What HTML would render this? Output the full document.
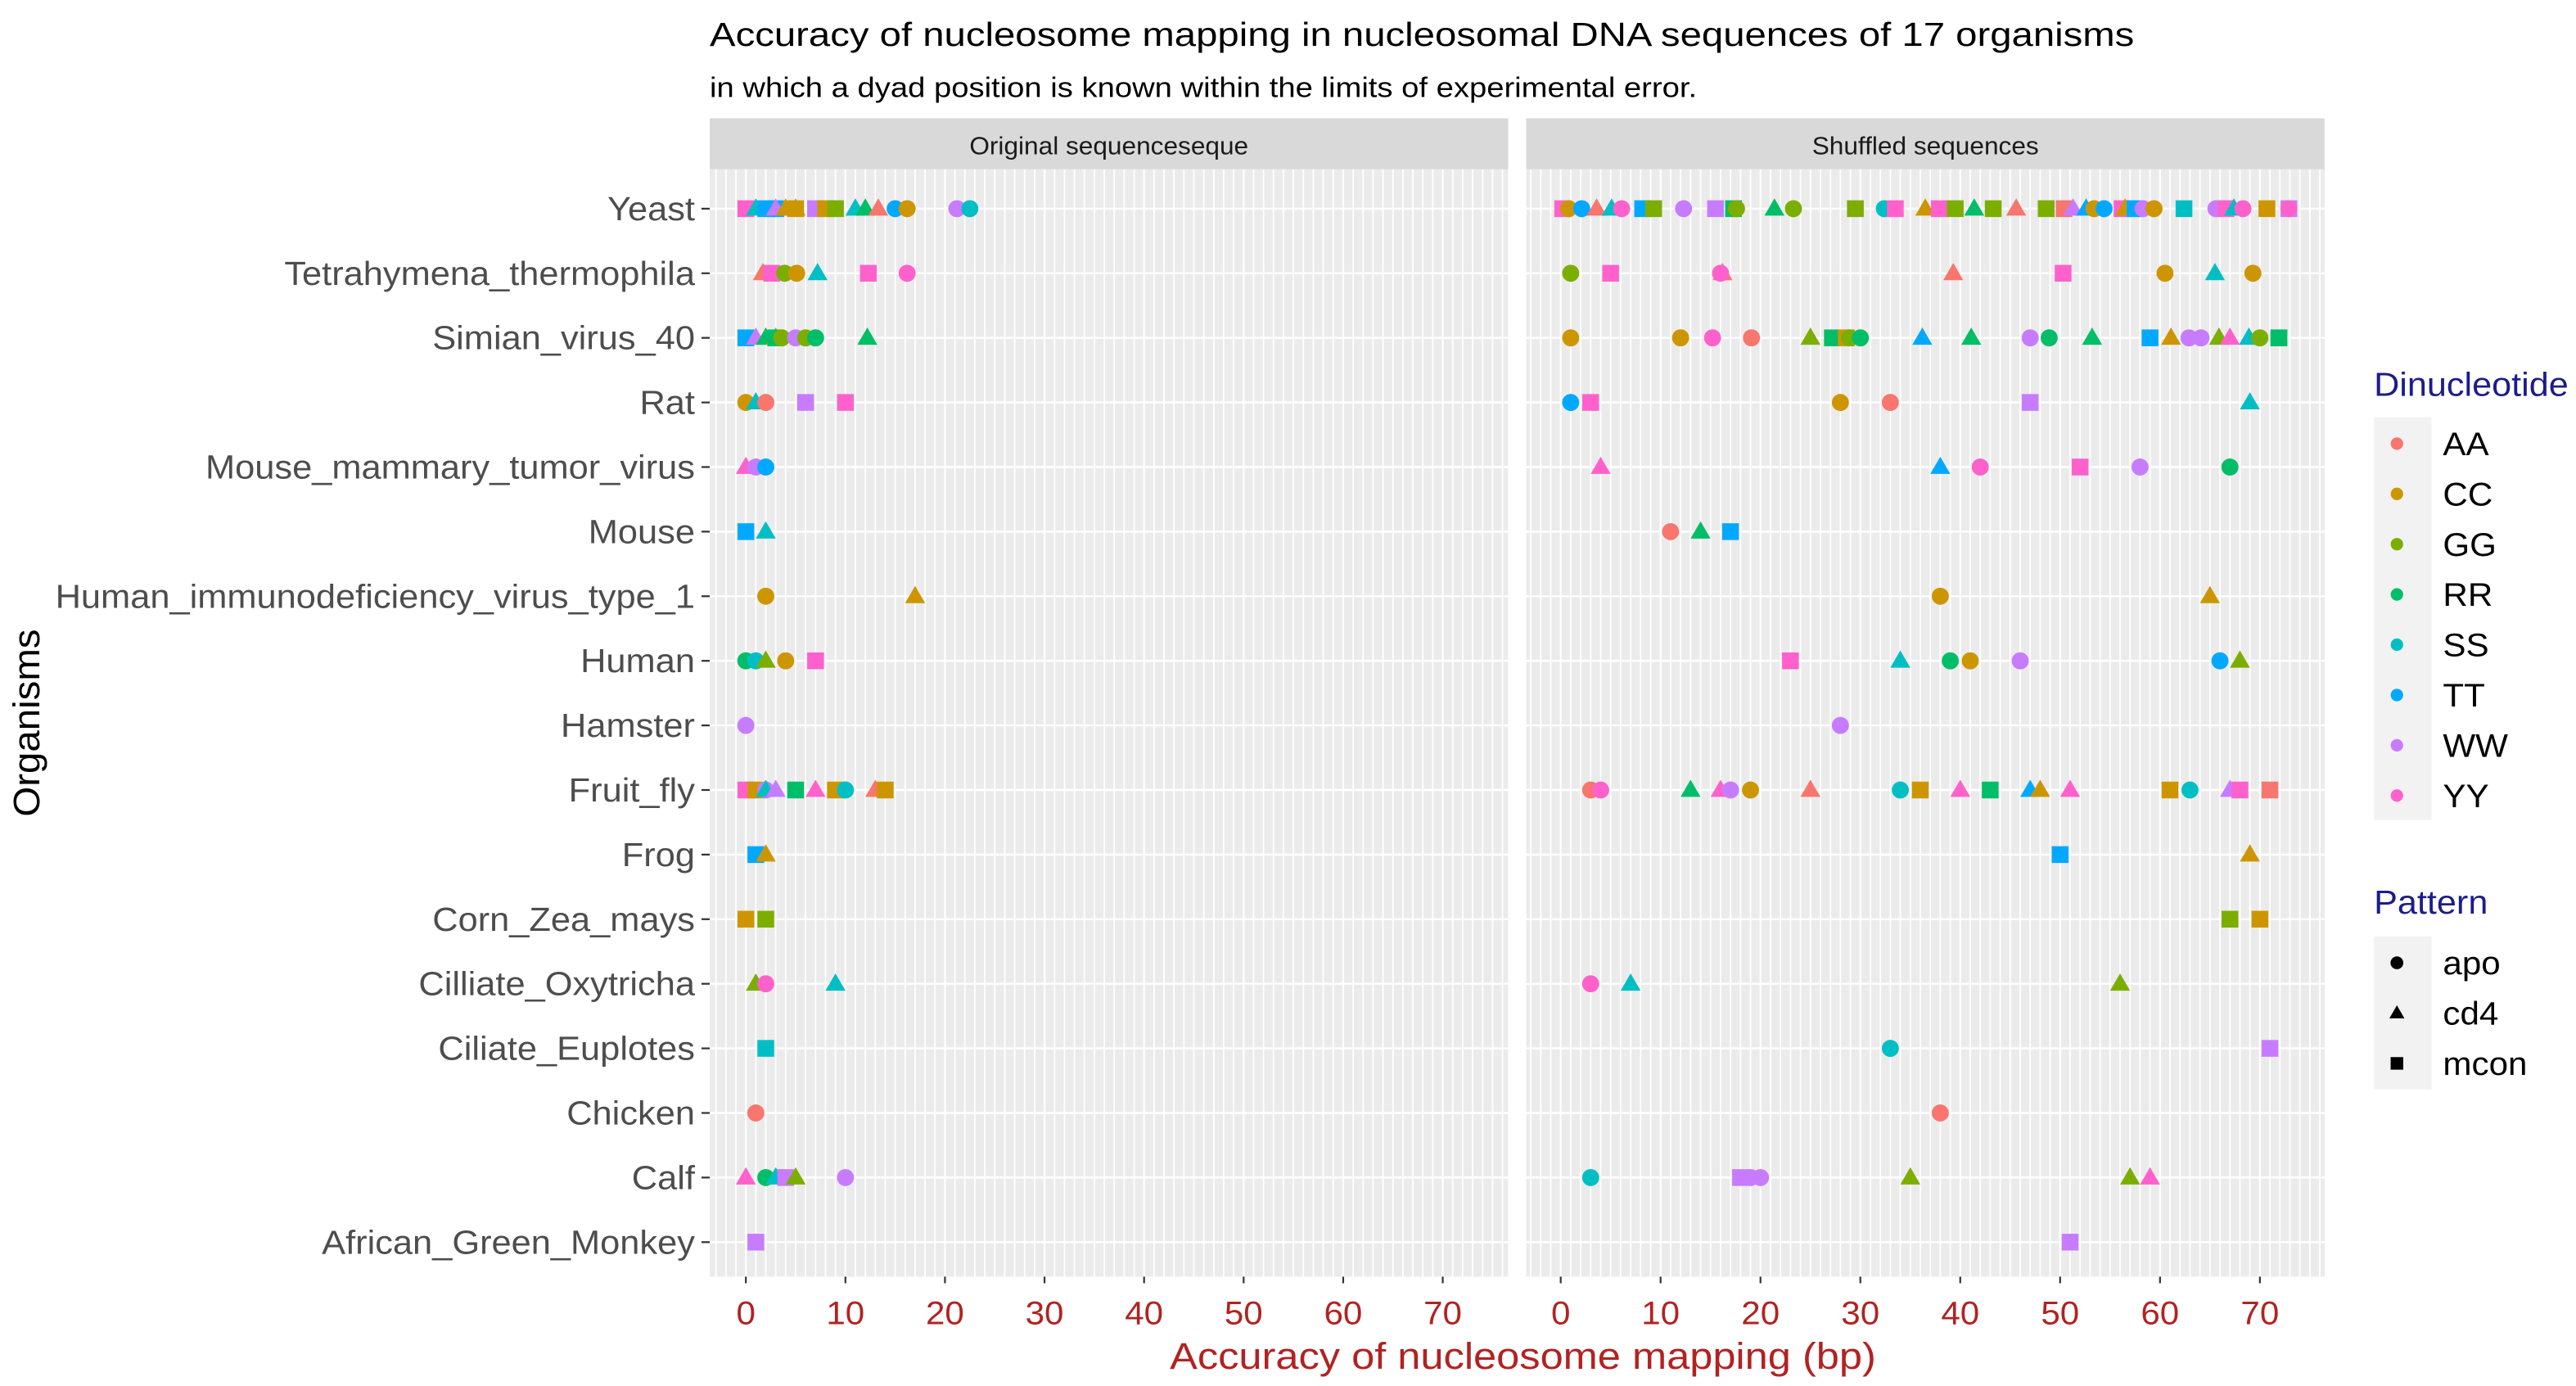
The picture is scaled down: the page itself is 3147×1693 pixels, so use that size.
<!DOCTYPE html>
<html><head><meta charset="utf-8"><style>
html,body{margin:0;padding:0;background:#fff;}
svg{display:block;font-family:"Liberation Sans",Arial,sans-serif;}
</style></head><body>
<svg id="chart" width="3147" height="1693" viewBox="0 0 1568 843.55" xmlns="http://www.w3.org/2000/svg">
<text id="t-title" x="432" y="28" font-size="20.5" fill="#000">Accuracy of nucleosome mapping in nucleosomal DNA sequences of 17 organisms</text>
<text id="t-sub" x="432" y="59" font-size="17" fill="#000">in which a dyad position is known within the limits of experimental error.</text>
<g id="panels"></g>
<text id="t-xt" x="927" y="833" font-size="22.5" fill="#B22222" text-anchor="middle">Accuracy of nucleosome mapping (bp)</text>
<text id="t-yt" transform="translate(24,440) rotate(-90)" font-size="22.5" fill="#000" text-anchor="middle">Organisms</text>
<g id="legend"></g>
</svg>
<script>
const organisms = ["Yeast","Tetrahymena_thermophila","Simian_virus_40","Rat","Mouse_mammary_tumor_virus","Mouse","Human_immunodeficiency_virus_type_1","Human","Hamster","Fruit_fly","Frog","Corn_Zea_mays","Cilliate_Oxytricha","Ciliate_Euplotes","Chicken","Calf","African_Green_Monkey"];
const dinucleotides = ["AA","CC","GG","RR","SS","TT","WW","YY"];
const patterns = ["apo","cd4","mcon"];
const xTicks = [0,10,20,30,40,50,60,70];
const panelTitles = ["Original sequenceseque","Shuffled sequences"];
// [organism index, accuracy, dinucleotide, pattern]
const originalPoints = [
[0,0,"YY","mcon"],[0,1,"SS","cd4"],[0,2,"TT","mcon"],[0,3,"TT","mcon"],[0,3,"WW","cd4"],[0,4,"CC","cd4"],[0,5,"CC","cd4"],[0,5,"CC","mcon"],[0,7,"WW","mcon"],[0,8,"CC","mcon"],[0,9,"GG","mcon"],[0,11,"SS","cd4"],[0,12,"RR","cd4"],[0,13.3,"AA","cd4"],[0,15,"TT","apo"],[0,16.2,"CC","apo"],[0,21.2,"WW","apo"],[0,22.5,"SS","apo"],
[1,1.7,"AA","cd4"],[1,2.6,"YY","mcon"],[1,3.9,"GG","apo"],[1,5.1,"CC","apo"],[1,7.2,"SS","cd4"],[1,12.3,"YY","mcon"],[1,16.2,"YY","apo"],
[2,0,"TT","mcon"],[2,1,"WW","cd4"],[2,2,"RR","cd4"],[2,3,"CC","cd4"],[2,3,"RR","mcon"],[2,3.6,"GG","apo"],[2,5,"WW","apo"],[2,6,"GG","apo"],[2,7,"RR","apo"],[2,12.2,"RR","cd4"],
[3,0,"CC","apo"],[3,1,"SS","cd4"],[3,2,"AA","apo"],[3,6,"WW","mcon"],[3,10,"YY","mcon"],
[4,0,"YY","cd4"],[4,1,"WW","apo"],[4,2,"TT","apo"],
[5,0,"TT","mcon"],[5,2,"SS","cd4"],
[6,2,"CC","apo"],[6,17,"CC","cd4"],
[7,0,"RR","apo"],[7,1,"SS","apo"],[7,2,"GG","cd4"],[7,4,"CC","apo"],[7,7,"YY","mcon"],
[8,0,"WW","apo"],
[9,0,"YY","mcon"],[9,1,"CC","mcon"],[9,2,"WW","apo"],[9,2,"SS","cd4"],[9,3,"WW","cd4"],[9,5,"RR","mcon"],[9,7,"YY","cd4"],[9,9,"CC","mcon"],[9,10,"SS","apo"],[9,13,"AA","cd4"],[9,14,"CC","mcon"],
[10,1,"TT","mcon"],[10,2,"CC","cd4"],
[11,0,"CC","mcon"],[11,2,"GG","mcon"],
[12,1,"GG","cd4"],[12,2,"YY","apo"],[12,9,"SS","cd4"],
[13,2,"SS","mcon"],
[14,1,"AA","apo"],
[15,0,"YY","cd4"],[15,2,"RR","apo"],[15,3,"SS","cd4"],[15,4,"WW","mcon"],[15,5,"GG","cd4"],[15,10,"WW","apo"],
[16,1,"WW","mcon"]
];
const shuffledPoints = [
[0,0.2,"YY","mcon"],[0,0.8,"CC","apo"],[0,2.1,"TT","apo"],[0,3.6,"AA","cd4"],[0,5.1,"SS","cd4"],[0,6.1,"YY","apo"],[0,8.2,"TT","mcon"],[0,9.3,"GG","mcon"],[0,12.3,"WW","apo"],[0,15.5,"WW","mcon"],[0,17.3,"RR","mcon"],[0,17.6,"GG","apo"],[0,21.4,"RR","cd4"],[0,23.3,"GG","apo"],[0,29.5,"GG","mcon"],[0,32.4,"SS","apo"],[0,33.5,"YY","mcon"],[0,36.5,"CC","cd4"],[0,37.9,"YY","mcon"],[0,39.5,"GG","mcon"],[0,41.4,"RR","cd4"],[0,43.3,"GG","mcon"],[0,45.6,"AA","cd4"],[0,48.6,"GG","mcon"],[0,50.4,"AA","mcon"],[0,51.3,"WW","cd4"],[0,52.6,"TT","cd4"],[0,53.4,"CC","apo"],[0,54.4,"TT","apo"],[0,56.2,"YY","mcon"],[0,56.5,"CC","cd4"],[0,57.5,"TT","mcon"],[0,58.3,"WW","apo"],[0,59.4,"CC","apo"],[0,62.4,"SS","mcon"],[0,65.6,"WW","apo"],[0,66.6,"YY","mcon"],[0,67.4,"SS","cd4"],[0,68.3,"YY","apo"],[0,70.7,"CC","mcon"],[0,72.9,"WW","mcon"],[0,72.9,"YY","apo"],
[1,1,"GG","apo"],[1,5,"YY","mcon"],[1,16.2,"AA","cd4"],[1,16,"YY","apo"],[1,39.3,"AA","cd4"],[1,50.3,"YY","mcon"],[1,60.5,"CC","apo"],[1,65.5,"SS","cd4"],[1,69.3,"CC","apo"],
[2,1,"CC","apo"],[2,12,"CC","apo"],[2,15.2,"YY","apo"],[2,19.1,"AA","apo"],[2,25,"GG","cd4"],[2,27.2,"RR","mcon"],[2,28.6,"CC","mcon"],[2,28.9,"GG","apo"],[2,30,"RR","apo"],[2,36.2,"TT","cd4"],[2,41.1,"RR","cd4"],[2,47,"WW","apo"],[2,48.9,"RR","apo"],[2,53.2,"RR","cd4"],[2,59,"TT","mcon"],[2,61.1,"CC","cd4"],[2,62.9,"WW","apo"],[2,64.1,"WW","apo"],[2,65.9,"GG","cd4"],[2,67,"YY","cd4"],[2,68.9,"SS","cd4"],[2,70,"GG","apo"],[2,71.9,"SS","mcon"],[2,71.9,"RR","mcon"],
[3,1,"TT","apo"],[3,3,"YY","mcon"],[3,28,"CC","apo"],[3,33,"AA","apo"],[3,47,"WW","mcon"],[3,69,"SS","cd4"],
[4,4,"YY","cd4"],[4,38,"TT","cd4"],[4,42,"YY","apo"],[4,52,"YY","mcon"],[4,58,"WW","apo"],[4,67,"RR","apo"],
[5,11,"AA","apo"],[5,14,"RR","cd4"],[5,17,"TT","mcon"],
[6,38,"CC","apo"],[6,65,"CC","cd4"],
[7,23,"YY","mcon"],[7,34,"SS","cd4"],[7,39,"RR","apo"],[7,41,"CC","apo"],[7,46,"WW","apo"],[7,66,"TT","apo"],[7,68,"GG","cd4"],
[8,28,"WW","apo"],
[9,3,"AA","apo"],[9,4,"YY","apo"],[9,13,"RR","cd4"],[9,16,"YY","cd4"],[9,17,"WW","apo"],[9,19,"CC","apo"],[9,25,"AA","cd4"],[9,34,"SS","apo"],[9,36,"CC","mcon"],[9,40,"YY","cd4"],[9,43,"RR","mcon"],[9,47,"TT","cd4"],[9,48,"CC","cd4"],[9,51,"YY","cd4"],[9,61,"CC","mcon"],[9,63,"SS","apo"],[9,67,"WW","cd4"],[9,68,"YY","mcon"],[9,71,"AA","mcon"],
[10,50,"TT","mcon"],[10,69,"CC","cd4"],
[11,67,"GG","mcon"],[11,70,"CC","mcon"],
[12,3,"YY","apo"],[12,7,"SS","cd4"],[12,56,"GG","cd4"],
[13,33,"SS","apo"],[13,71,"WW","mcon"],
[14,38,"AA","apo"],
[15,3,"SS","apo"],[15,18,"WW","mcon"],[15,19,"WW","apo"],[15,20,"WW","apo"],[15,35,"GG","cd4"],[15,57,"GG","cd4"],[15,59,"YY","cd4"],
[16,51,"WW","mcon"]
];
const colors = {AA:"#F8766D",CC:"#CD9600",GG:"#7CAE00",RR:"#00BE67",SS:"#00BFC4",TT:"#00A9FF",WW:"#C77CFF",YY:"#FF61CC"};
const NS="http://www.w3.org/2000/svg";
function mk(tag,attrs,parent){const e=document.createElementNS(NS,tag);for(const k in attrs)e.setAttribute(k,attrs[k]);if(parent)parent.appendChild(e);return e;}
function stretch(el,f){const w=el.getComputedTextLength();el.setAttribute('textLength',w*f);el.setAttribute('lengthAdjust','spacingAndGlyphs');}
const top0=103,bot0=777,rowY0=127,rowStep=(756-127)/16;
function yScale(i){return rowY0+i*rowStep;}
const panelX=[{x0:432,x1:918,zero:454,k:6.06},{x0:929,x1:1415,zero:950,k:6.08}];
const panels=document.getElementById('panels');
function shape(g,cx,cy,pat,col,s){
  let e;
  if(pat==="apo"){e=mk('circle',{cx:cx,cy:cy,r:5.2*s,fill:col},g);}
  else if(pat==="cd4"){const h=10.5*s;e=mk('polygon',{points:`${cx},${cy-h*0.6} ${cx-h*0.58},${cy+h*0.4} ${cx+h*0.58},${cy+h*0.4}`,fill:col},g);}
  else {const w=10.2*s;e=mk('rect',{x:cx-w/2,y:cy-w/2,width:w,height:w,fill:col},g);}
  return e;
}
[originalPoints,shuffledPoints].forEach((pts,pi)=>{
  const P=panelX[pi];
  const xs=v=>P.zero+v*P.k;
  const g=mk('g',{},panels);
  
  
  const bg=mk('rect',{x:P.x0,y:top0,width:P.x1-P.x0,height:bot0-top0,fill:"#EBEBEB"},g);
  
  
  for(let v=-3;v<=76;v++){const x=xs(v);if(x<P.x0||x>P.x1)continue;mk('line',{x1:x,x2:x,y1:top0,y2:bot0,stroke:"#fff","stroke-width":v%10===0?1.1:0.9},g);}
  organisms.forEach((o,i)=>{mk('line',{x1:P.x0,x2:P.x1,y1:yScale(i),y2:yScale(i),stroke:"#fff","stroke-width":1.2},g);});
  const strip=mk('rect',{x:P.x0,y:72,width:P.x1-P.x0,height:31,fill:"#D9D9D9"},g);
  
  
  const st=mk('text',{x:(P.x0+P.x1)/2,y:94,"font-size":15,fill:"#1A1A1A","text-anchor":"middle"},g);
  st.textContent=panelTitles[pi];
  
  
  stretch(st,1.05);
  xTicks.forEach(t=>{
    mk('line',{x1:xs(t),x2:xs(t),y1:bot0,y2:bot0+4,stroke:"#333","stroke-width":1.1},g);
    const tl=mk('text',{x:xs(t),y:806,"font-size":20,fill:"#B22222","text-anchor":"middle"},g);
    tl.textContent=t;
    
    
    stretch(tl,1.05);
  });
  pts.forEach(p=>{
    const e=shape(g,xs(p[1]),yScale(p[0]),p[3],colors[p[2]],1);
    
    
  });
});
organisms.forEach((o,i)=>{
  mk('line',{x1:427,x2:432,y1:yScale(i),y2:yScale(i),stroke:"#333","stroke-width":1.1},panels);
  const t=mk('text',{x:423,y:yScale(i)+7,"font-size":20.5,fill:"#4D4D4D","text-anchor":"end"},panels);
  t.textContent=o;
  
  
  stretch(t,1.055);
});
const lg=document.getElementById('legend');
function ltitle(txt,y){const t=mk('text',{x:1445,y:y,"font-size":20.5,fill:"#1C1C8C"},lg);t.textContent=txt;stretch(t,1.05);}
ltitle("Dinucleotide",241);
mk('rect',{x:1445,y:254,width:35,height:245,fill:"#F2F2F2"},lg);
dinucleotides.forEach((d,i)=>{
  const y=270+i*30.6;
  mk('circle',{cx:1459,cy:y,r:3.8,fill:colors[d]},lg);
  const t=mk('text',{x:1487,y:y+7,"font-size":20,fill:"#000"},lg);t.textContent=d;
  
  
  stretch(t,1.05);
});
ltitle("Pattern",556);
mk('rect',{x:1445,y:570,width:35,height:93,fill:"#F2F2F2"},lg);
patterns.forEach((p,i)=>{
  const y=586+i*30.6;
  shape(lg,1459,y,p,"#000",0.75);
  const t=mk('text',{x:1487,y:y+7,"font-size":20,fill:"#000"},lg);t.textContent=p;
  
  
  stretch(t,1.05);
});
stretch(document.getElementById('t-title'),1.15);
stretch(document.getElementById('t-sub'),1.12);
stretch(document.getElementById('t-xt'),1.12);
stretch(document.getElementById('t-yt'),1.05);
</script>
</body></html>
